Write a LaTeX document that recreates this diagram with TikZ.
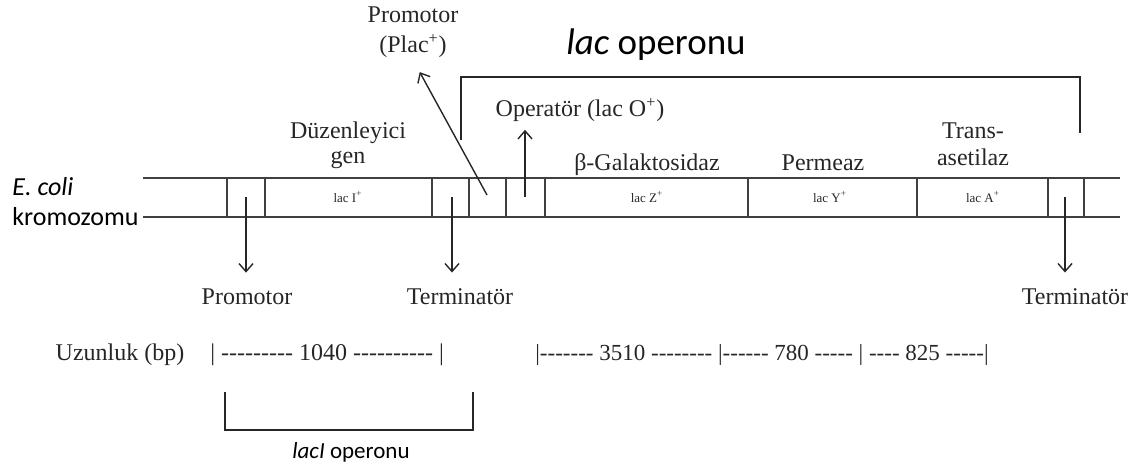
\documentclass[tikz,border=0pt]{standalone}
\usepackage{fontspec}
\setmainfont{Liberation Serif}
\newfontfamily\calibri{Carlito}
\usetikzlibrary{arrows.meta, positioning}
\newcommand{\dashrun}[1]{\foreach \k in {1,...,#1}{\hbox{-}}}

\begin{document}
\begin{tikzpicture}[
    x=0.5pt, y=-0.5pt,
    font=\fontsize{12}{12.5}\selectfont,
    lbl/.style={inner sep=1pt, align=center, text=black!85},
    gene/.style={inner sep=0pt, font=\fontsize{6.5}{7}\selectfont, text=black!85},
    sanslbl/.style={inner sep=1pt, align=left, font=\calibri\fontsize{13}{15}\selectfont},
    chr/.style={line width=1pt, black!75},
    arr/.style={-{Straight Barb[length=4pt, width=7pt]}, line width=0.7pt, black!85},
    brk/.style={line width=0.8pt, black!85}
]
\useasboundingbox (0,0) rectangle (1144,466);

% chromosome
\node[sanslbl, anchor=west] (ecoli) at (10,187) {\itshape E. coli};
\node[sanslbl, anchor=west] (kromo) at (10,217) {kromozomu};
\draw[chr] (143,178) -- (1120,178);
\draw[chr] (143,217) -- (1120,217);
\foreach \x in {227,265,432,469,506,545,748,917,1048,1084} {
    \draw[chr] (\x,178) -- (\x,217);
}

\node[gene] (laci) at (348,197) {lac I\textsuperscript{+}};
\node[gene] (lacz) at (647,197) {lac Z\textsuperscript{+}};
\node[gene] (lacy) at (830,197) {lac Y\textsuperscript{+}};
\node[gene] (laca) at (983,197) {lac A\textsuperscript{+}};

\node[lbl] (duz)   at (348,145) {Düzenleyici\\gen};
\node[lbl] (galz)  at (647,165) {β-Galaktosidaz};
\node[lbl] (perm)  at (823,163) {Permeaz};
\node[lbl, font=\fontsize{12}{13.5}\selectfont] (trans) at (973,144) {Trans-\\asetilaz};

% promotor / operator
\node[lbl, font=\fontsize{12}{15}\selectfont] (plac) at (413,32) {Promotor\\(Plac\textsuperscript{+})};
\node[lbl] (oper) at (580,110) {Operatör (lac O\textsuperscript{+})};
\coordinate (pp) at (487,195);
\coordinate (po) at (525,197);
\draw[arr, shorten >=7pt] (pp) -- (plac.south);
\draw[arr, shorten >=3pt] (po) -- (po |- oper.south);

% lower labels
\node[lbl] (prom)  at (247,297) {Promotor};
\node[lbl] (term1) at (460,297) {Terminatör};
\node[lbl] (term2) at (1075,297) {Terminatör};
\coordinate (p1) at (246,197);
\coordinate (p2) at (452,197);
\coordinate (p3) at (1065,197);
\draw[arr, shorten >=7pt] (p1) -- (p1 |- prom.north);
\draw[arr, shorten >=7pt] (p2) -- (p2 |- term1.north);
\draw[arr, shorten >=7pt] (p3) -- (p3 |- term2.north);

% operon brackets
\node[sanslbl, font=\calibri\fontsize{18.5}{20}\selectfont] (lacop) at (656,45) {\textit{lac} operonu};
\coordinate (ol) at (461,140);
\coordinate (or) at (1080,133);
\draw[brk] (ol) |- (or |- 0,77) -- (or);

\coordinate (il) at (225,392);
\coordinate (ir) at (473,392);
\draw[brk] (il) |- (ir |- 0,430) -- (ir);
\node[sanslbl, font=\calibri\fontsize{11.5}{13}\selectfont] (laciop) at (351,452) {\textit{lacI} operonu};

% lengths
\node[lbl] (uzun) at (120,355) {Uzunluk (bp)};
\node[lbl, anchor=west] (len1) at (208,355) {| \dashrun{9} 1040 \dashrun{10} |};
\node[lbl, font=\fontsize{11.5}{12.5}\selectfont] (len2) at (762,355) {|\dashrun{7} 3510 \dashrun{8} |\dashrun{6} 780 \dashrun{5} | \dashrun{4} 825 \dashrun{5}|};
\end{tikzpicture}
\end{document}
